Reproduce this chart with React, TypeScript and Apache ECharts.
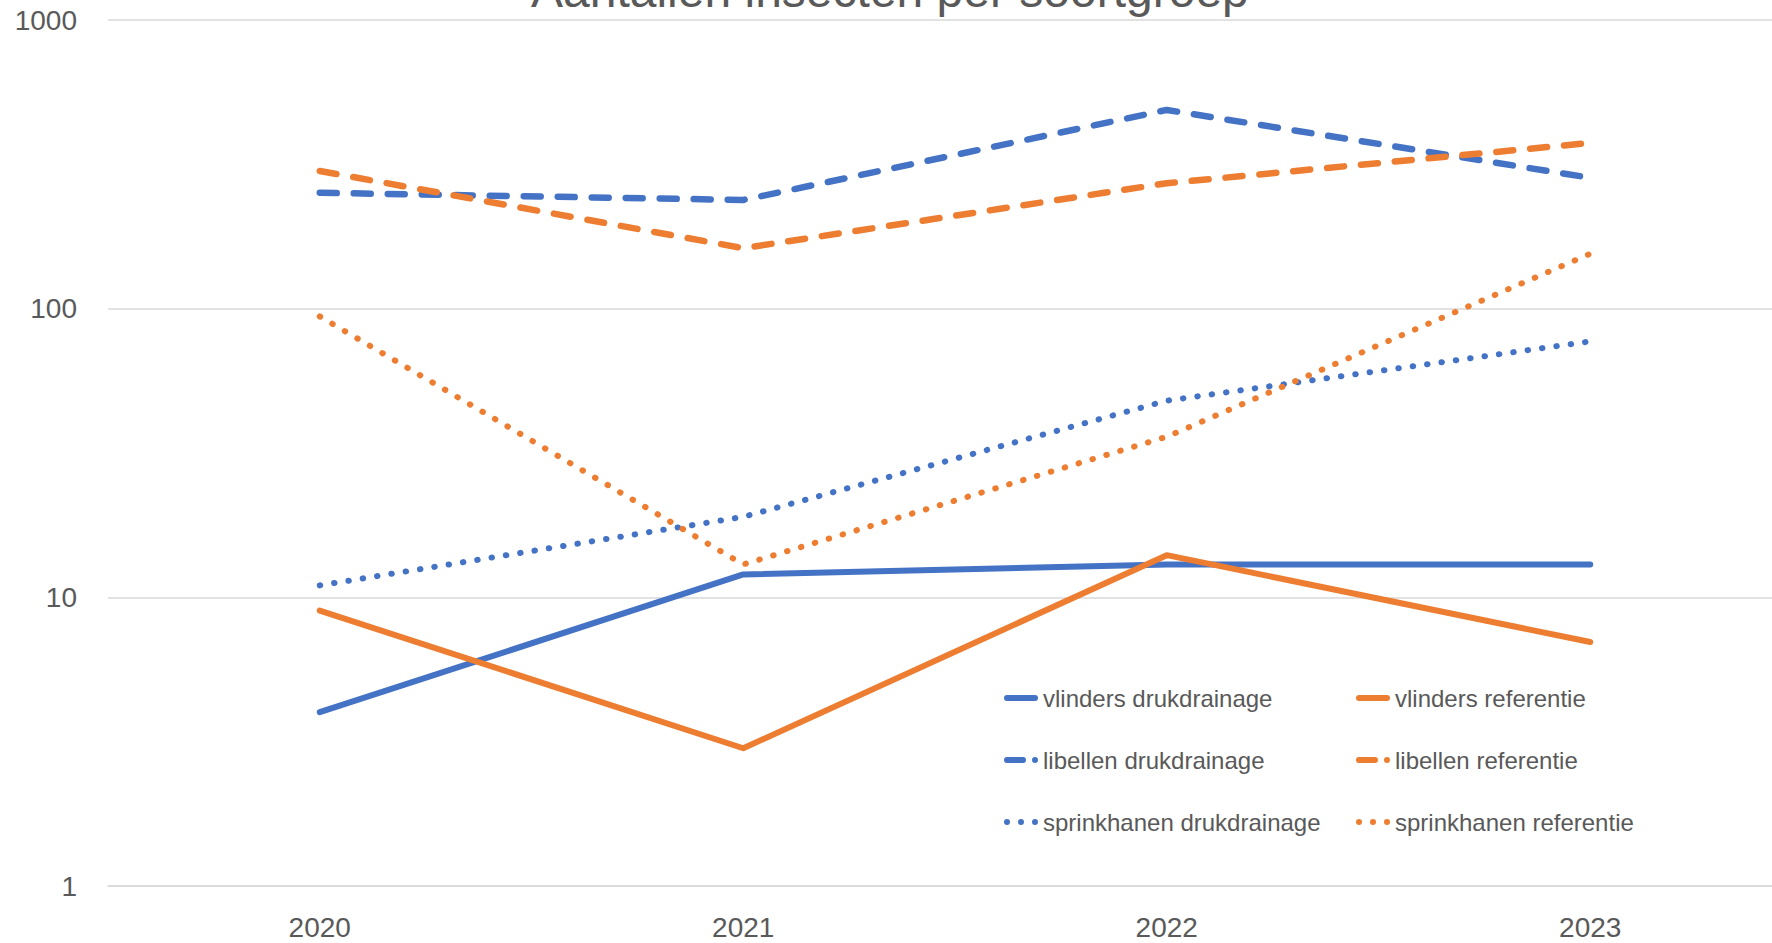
import React, { useEffect, useRef } from "react";
import * as echarts from "echarts";

const years = ["2020", "2021", "2022", "2023"];
const vlindersDruk = [4, 12, 13, 13];
const vlindersRef = [9, 3, 14, 7];
const libellenDruk = [252, 238, 488, 284];
const libellenRef = [300, 162, 272, 375];
const sprinkDruk = [11, 19, 48, 77];
const sprinkRef = [94, 13, 36, 155];

const BLUE = "#4472C4";
const ORANGE = "#ED7D31";
const FONT = "'Liberation Sans', Arial, sans-serif";
const TEXT = "#595959";

const ICON_SOLID = "path://M3 0 H31 A3 3 0 0 1 31 6 H3 A3 3 0 0 1 3 0 Z";
const ICON_DASH =
  "path://M3 0 H19 A3 3 0 0 1 19 6 H3 A3 3 0 0 1 3 0 Z M31 0 A3 3 0 1 1 31 6 A3 3 0 1 1 31 0 Z";
const ICON_DOT =
  "path://M3 0 A3 3 0 1 1 3 6 A3 3 0 1 1 3 0 Z M17 0 A3 3 0 1 1 17 6 A3 3 0 1 1 17 0 Z M31 0 A3 3 0 1 1 31 6 A3 3 0 1 1 31 0 Z";

const seriesDefs = [
  { name: "vlinders drukdrainage", data: vlindersDruk, color: BLUE, kind: "solid" },
  { name: "vlinders referentie", data: vlindersRef, color: ORANGE, kind: "solid" },
  { name: "libellen drukdrainage", data: libellenDruk, color: BLUE, kind: "dash" },
  { name: "libellen referentie", data: libellenRef, color: ORANGE, kind: "dash" },
  { name: "sprinkhanen drukdrainage", data: sprinkDruk, color: BLUE, kind: "dot" },
  { name: "sprinkhanen referentie", data: sprinkRef, color: ORANGE, kind: "dot" },
];

function lineStyleFor(kind: string, color: string) {
  if (kind === "dash") {
    return { color, width: 6.5, type: [17, 17], cap: "round", join: "round" };
  }
  if (kind === "dot") {
    return { color, width: 6, type: [0.5, 14], cap: "round", join: "round" };
  }
  return { color, width: 6, type: "solid", cap: "round", join: "round" };
}

function iconFor(kind: string) {
  if (kind === "dash") return ICON_DASH;
  if (kind === "dot") return ICON_DOT;
  return ICON_SOLID;
}

export default function App() {
  const ref = useRef<HTMLDivElement>(null);

  useEffect(() => {
    if (!ref.current) return;
    const chart = echarts.init(ref.current, null, { renderer: "svg" });

    const legendBase = {
      orient: "vertical",
      top: 686,
      itemWidth: 34,
      itemHeight: 6,
      itemGap: 38,
      itemStyle: { borderWidth: 0 },
      textStyle: {
        fontFamily: FONT,
        fontSize: 24,
        lineHeight: 24,
        color: TEXT,
      },
      padding: 0,
    };

    const druk = seriesDefs.filter((s) => s.name.endsWith("drukdrainage"));
    const refr = seriesDefs.filter((s) => s.name.endsWith("referentie"));

    chart.setOption({
      animation: false,
      backgroundColor: "#ffffff",
      title: {
        text: "Aantallen insecten per soortgroep",
        left: 526,
        top: -39,
        textStyle: {
          fontFamily: FONT,
          fontSize: 48,
          fontWeight: "normal",
          color: TEXT,
        },
      },
      legend: [
        {
          ...legendBase,
          left: 1004,
          data: druk.map((s) => ({ name: s.name, icon: iconFor(s.kind) })),
        },
        {
          ...legendBase,
          left: 1356,
          data: refr.map((s) => ({ name: s.name, icon: iconFor(s.kind) })),
        },
      ],
      grid: {
        left: 108,
        right: 0,
        top: 20,
        bottom: 57,
        containLabel: false,
      },
      xAxis: {
        type: "category",
        data: years,
        boundaryGap: true,
        axisLine: { show: true, lineStyle: { color: "#d9d9d9", width: 1.5 } },
        axisTick: { show: false },
        axisLabel: {
          fontFamily: FONT,
          fontSize: 28,
          color: TEXT,
          margin: 27,
        },
        splitLine: { show: false },
      },
      yAxis: {
        type: "log",
        logBase: 10,
        min: 1,
        max: 1000,
        axisLine: { show: false },
        axisTick: { show: false },
        axisLabel: {
          fontFamily: FONT,
          fontSize: 28,
          color: TEXT,
          margin: 31,
          formatter: (v: number) => String(Math.round(v)),
        },
        splitLine: { show: true, lineStyle: { color: "#d9d9d9", width: 1.5 } },
      },
      series: seriesDefs.map((s) => ({
        name: s.name,
        type: "line",
        data: s.data,
        symbol: "none",
        showSymbol: false,
        color: s.color,
        itemStyle: { color: s.color, borderWidth: 0 },
        lineStyle: lineStyleFor(s.kind, s.color),
      })),
    });

    return () => {
      chart.dispose();
    };
  }, []);

  return (
    <div
      style={{
        position: "absolute",
        left: 0,
        top: 0,
        width: 1772,
        height: 943,
        overflow: "hidden",
        background: "#ffffff",
      }}
    >
      <div ref={ref} style={{ width: 1802, height: 943 }} />
    </div>
  );
}
